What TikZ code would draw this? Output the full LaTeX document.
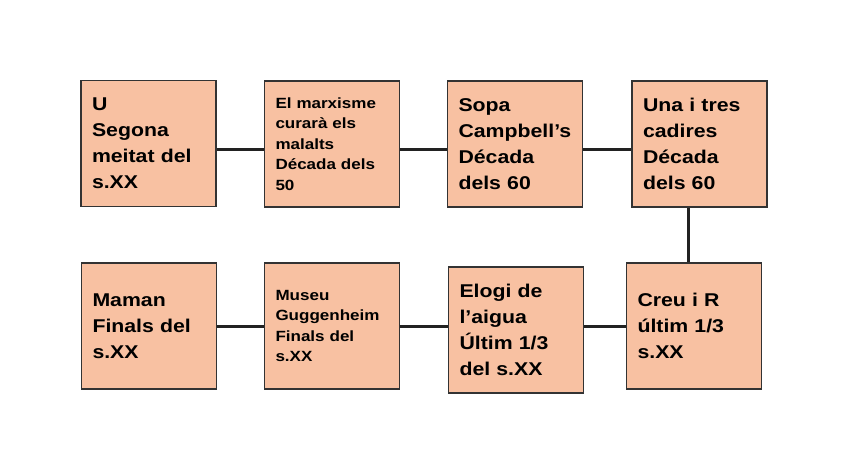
\documentclass[tikz,border=0pt]{standalone}
\usepackage{fontspec}
\setmainfont{Liberation Sans}[FakeStretch=1.15]
\usetikzlibrary{positioning}
\definecolor{boxfill}{HTML}{F8C1A2}
\definecolor{boxline}{HTML}{333333}
\definecolor{linkline}{HTML}{222222}
\tikzset{
  era/.style={draw=boxline, line width=1.6pt, fill=boxfill, rectangle,
              minimum width=135pt, minimum height=126pt,
              text width=113pt, inner xsep=11pt, align=left,
              font=\bfseries\fontsize{18.5}{26}\selectfont},
  erasmall/.style={era, font=\bfseries\fontsize{14.8}{20.6}\selectfont},
  link/.style={draw=linkline, line width=3pt}
}

\begin{document}
\begin{tikzpicture}[x=1pt, y=-1pt]
\useasboundingbox (0,0) rectangle (848,473);
% first row
\node[era] (u) at (148.5,143.5) {U\\Segona\\meitat del\\s.XX};
\node[erasmall] (marx) at (332,144) {El marxisme\\curarà els\\malalts\\Década dels\\50};
\node[era] (sopa) at (515,144) {Sopa\\Campbell’s\\Década\\dels 60};
\node[era] (cadires) at (699.5,144) {Una i tres\\cadires\\Década\\dels 60};
% second row
\node[era] (maman) at (149,326) {Maman\\Finals del\\s.XX};
\node[erasmall] (museu) at (332,326) {Museu\\Guggenheim\\Finals del\\s.XX};
\node[era] (elogi) at (516,330) {Elogi de\\l’aigua\\Últim 1/3\\del s.XX};
\node[era] (creu) at (694,326) {Creu i R\\últim 1/3\\s.XX};

\draw[link] ([yshift=-6.5pt]u.east) -- ([yshift=-6pt]marx.west);
\draw[link] ([yshift=-6pt]marx.east) -- ([yshift=-6pt]sopa.west);
\draw[link] ([yshift=-6pt]sopa.east) -- ([yshift=-6pt]cadires.west);
\draw[link] ([xshift=-6pt]creu.north) -- ([xshift=-6pt]creu.north |- cadires.south);
\draw[link] (creu.west) -- (creu.west -| elogi.east);
\draw[link] (museu.east) -- (museu.east -| elogi.west);
\draw[link] (maman.east) -- (museu.west);
\end{tikzpicture}
\end{document}
